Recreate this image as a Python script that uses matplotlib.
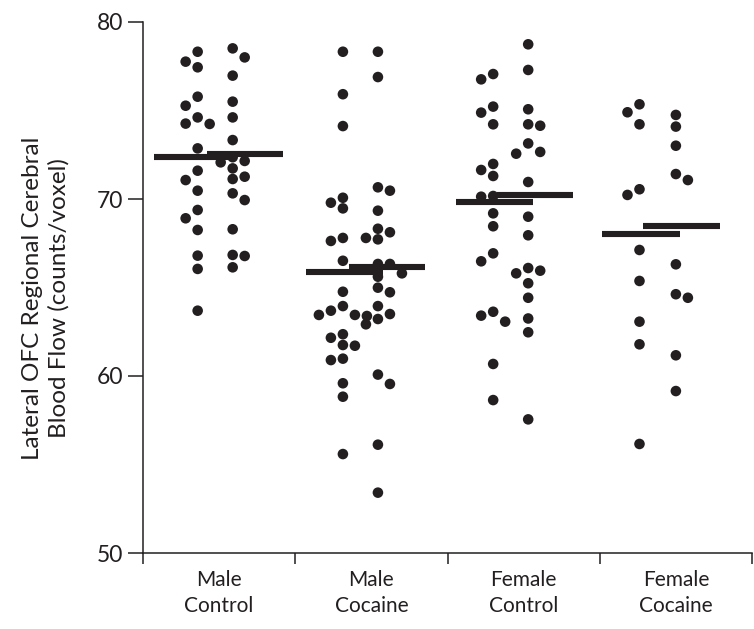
import matplotlib
matplotlib.use('Agg')
import matplotlib.pyplot as plt
import numpy as np

plt.rcParams['font.family'] = ['Lato', 'DejaVu Sans']

groups = ['Male\nControl', 'Male\nCocaine', 'Female\nControl', 'Female\nCocaine']

# two columns of points per group (left / right)
male_control_left = [78.32, 77.76, 77.44, 75.78, 75.27, 74.61, 74.24, 74.26, 72.86, 71.60,
                     71.07, 70.47, 69.38, 68.91, 68.25, 66.80, 66.05, 63.69]
male_control_right = [78.51, 78.00, 76.97, 75.50, 74.61, 73.33, 72.15, 72.36, 72.07, 71.73,
                      71.26, 71.13, 70.32, 69.94, 68.29, 66.78, 66.84, 66.14]
male_cocaine_left = [78.32, 75.92, 74.12, 70.07, 69.79, 69.47, 67.80, 67.63, 66.51, 64.76,
                     63.95, 63.69, 63.45, 63.39, 63.45, 62.36, 62.16, 61.75, 61.71, 60.98,
                     60.90, 59.59, 58.83, 55.59]
male_cocaine_right = [78.32, 76.89, 70.66, 70.47, 69.34, 68.32, 68.12, 67.80, 67.72, 66.33,
                      66.33, 66.03, 65.80, 65.61, 64.99, 64.73, 63.95, 63.50, 63.22, 62.92,
                      60.08, 59.55, 56.12, 53.41]
female_control_left = [77.06, 76.76, 75.22, 74.88, 74.22, 71.98, 71.64, 71.30, 70.13, 70.17,
                       69.19, 68.46, 66.93, 66.48, 63.41, 63.63, 63.07, 60.68, 58.64]
female_control_right = [78.74, 77.29, 75.07, 74.22, 74.14, 73.14, 72.66, 72.56, 70.96, 69.00,
                        67.95, 66.10, 65.80, 65.95, 65.24, 64.42, 63.25, 62.47, 57.55]
female_cocaine_left = [75.35, 74.90, 74.22, 70.55, 70.23, 67.12, 65.37, 63.07, 61.79, 56.16]
female_cocaine_right = [74.75, 74.09, 73.01, 71.41, 71.07, 66.31, 64.62, 64.42, 61.17, 59.15]

# group means as drawn (left, right)
means_left = [72.39, 65.89, 69.85, 68.04]
means_right = [72.52, 66.18, 70.21, 68.47]

left_cols = [male_control_left, male_cocaine_left, female_control_left, female_cocaine_left]
right_cols = [male_control_right, male_cocaine_right, female_control_right, female_cocaine_right]

# layout (offsets from group centre, in axis units)
col_off_left = [-0.141, -0.187, -0.200, -0.239]
col_off_right = [0.089, 0.043, 0.030, 0.000]
bar_left = [(-0.428, 0.078), (-0.432, 0.074), (-0.445, 0.063), (-0.482, 0.026)]
bar_right = [(-0.080, 0.419), (-0.149, 0.354), (-0.178, 0.325), (-0.215, 0.291)]

ink = '#231f20'

fig = plt.figure(figsize=(7.54, 6.29), dpi=100)
ax = fig.add_axes([143/754, 1-553/629, 609/754, 531/629])
ax.set_xlim(-0.5, 3.5)
ax.set_ylim(50, 80)

# pixels per axis unit
xpx = 609 / 4.0
ypx = 531 / 30.0


def swarm(values, xc, side, step=12.0, dmin=10.5):
    # simple greedy beeswarm, top to bottom
    placed = []
    xs = np.zeros(len(values))
    order = np.argsort(values)[::-1]
    tries = [0, side, -side, 2*side, -2*side, 3*side, -3*side]
    for i in order:
        py = values[i] * ypx
        for k in tries:
            px = k * step
            if all((px-qx)**2 + (py-qy)**2 >= dmin**2 for qx, qy in placed):
                break
        placed.append((px, py))
        xs[i] = xc + px / xpx
    return xs


for g in range(4):
    for vals, off, side in [(left_cols[g], col_off_left[g], -1), (right_cols[g], col_off_right[g], 1)]:
        vals = np.array(vals)
        xs = swarm(vals, g + off, side)
        ax.scatter(xs, vals, s=58, color=ink, edgecolors='none', zorder=3)
    ax.hlines(means_left[g], g + bar_left[g][0], g + bar_left[g][1], color=ink, lw=4.4, zorder=4)
    ax.hlines(means_right[g], g + bar_right[g][0], g + bar_right[g][1], color=ink, lw=4.4, zorder=4)

for s in ['top', 'right']:
    ax.spines[s].set_visible(False)
for s in ['left', 'bottom']:
    ax.spines[s].set_linewidth(1.1)
    ax.spines[s].set_color(ink)

ax.set_yticks([50, 60, 70, 80])
ax.tick_params(axis='y', direction='out', length=11, width=1.1, color=ink, pad=3,
               labelsize=16.5, labelcolor=ink)

ax.set_xticks([-0.5, 0.5, 1.5, 2.5, 3.5])
ax.set_xticklabels([])
ax.set_xticks([0, 1, 2, 3], minor=True)
ax.set_xticklabels(groups, minor=True, linespacing=1.4)
ax.tick_params(axis='x', which='major', direction='out', length=8, width=1.1, color=ink)
ax.tick_params(axis='x', which='minor', length=0, pad=12, labelsize=15, labelcolor=ink)

ax.set_ylabel('Lateral OFC Regional Cerebral\nBlood Flow (counts/voxel)', fontsize=17.5,
              color=ink, linespacing=1.3)
ax.yaxis.set_label_coords(-0.12, 0.48)

fig.savefig('out.png', dpi=100)
